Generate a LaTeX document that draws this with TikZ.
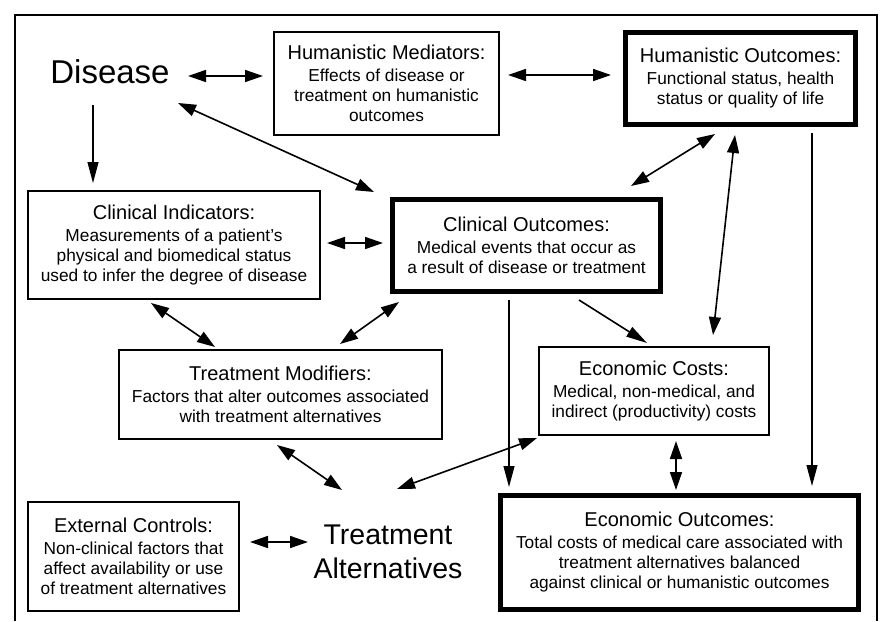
\documentclass[tikz,border=0pt]{standalone}
\usepackage{fontspec}
\setmainfont{Liberation Sans}
\usetikzlibrary{arrows.meta,calc}
\newcommand\boxtitle[1]{{\fontsize{20}{22}\selectfont #1}}
\begin{document}
\begin{tikzpicture}[x=1pt,y=-1pt,
  box/.style={draw, line width=1.4pt, align=center, inner sep=0pt, outer sep=0pt,
    font=\fontsize{17.3}{20}\selectfont},
  heavybox/.style={box, line width=5pt},
  bigtext/.style={inner sep=0pt, outer sep=0pt, align=center},
  dbl/.style={{Triangle[length=18pt,width=12pt]}-{Triangle[length=18pt,width=12pt]}, line width=1.6pt},
  one/.style={-{Triangle[length=21pt,width=11pt]}, line width=1.1pt},
  frame/.style={line width=1.8pt}
]
\useasboundingbox (0,0) rectangle (880,621);
\draw[frame] (15,621) -- (15,15) -- (877,15) -- (877,621);

% nodes
\node[bigtext, font=\fontsize{33}{36}\selectfont] (dis) at (110,72) {Disease};
\node[box, minimum width=225pt, minimum height=103pt] (hm) at (386.5,83.5)
  {\boxtitle{Humanistic Mediators:}\\[2pt] Effects of disease or\\ treatment on humanistic\\ outcomes};
\node[heavybox, minimum width=230pt, minimum height=92pt] (ho) at (740.5,78.5)
  {\boxtitle{Humanistic Outcomes:}\\[2pt] Functional status, health\\ status or quality of life};
\node[box, minimum width=292pt, minimum height=108pt] (ci) at (174,245)
  {\boxtitle{Clinical Indicators:}\\[2pt] Measurements of a patient’s\\ physical and biomedical status\\ used to infer the degree of disease};
\node[heavybox, minimum width=268pt, minimum height=92pt] (co) at (526.5,245.5)
  {\boxtitle{Clinical Outcomes:}\\[2pt] Medical events that occur as\\ a result of disease or treatment};
\node[box, minimum width=323pt, minimum height=89pt] (tm) at (280.5,394.5)
  {\boxtitle{Treatment Modifiers:}\\[2pt] Factors that alter outcomes associated\\ with treatment alternatives};
\node[box, minimum width=230pt, minimum height=88pt] (ec) at (654,391)
  {\boxtitle{Economic Costs:}\\[2pt] Medical, non-medical, and\\ indirect (productivity) costs};
\node[heavybox, minimum width=358pt, minimum height=114pt] (eo) at (679.5,552.5)
  {\boxtitle{Economic Outcomes:}\\[2pt] Total costs of medical care associated with\\ treatment alternatives balanced\\ against clinical or humanistic outcomes};
\node[box, minimum width=211pt, minimum height=109pt] (xc) at (133.5,556.5)
  {\boxtitle{External Controls:}\\[2pt] Non-clinical factors that\\ affect availability or use\\ of treatment alternatives};
\node[bigtext, font=\fontsize{28.5}{34}\selectfont] (ta) at (388,552) {Treatment\\Alternatives};

% connectors
\draw[dbl] ($(dis)+(78,4)$) -- ($(hm)+(-123.5,-7.5)$);
\draw[dbl] ($(hm)+(121.5,-8.5)$) -- ($(ho)+(-129.5,-3.5)$);
\draw[one] ($(dis)+(-17,33)$) -- ($(ci)+(-81,-62)$);
\draw[dbl] ($(dis)+(68,31)$) -- ($(co)+(-152.5,-53.5)$);
\draw[dbl] ($(ci)+(153,-2)$) -- ($(co)+(-143.5,-2.5)$);
\draw[dbl] ($(ho)+(-25.5,55.5)$) -- ($(co)+(104.5,-59.5)$);
\draw[dbl] ($(ho)+(-5.5,56.5)$) -- ($(ec)+(59,-56)$);
\draw[one] ($(ho)+(71.5,54.5)$) -- ($(eo)+(132.5,-66.5)$);
\draw[one] ($(co)+(-17.5,54.5)$) -- ($(eo)+(-170.5,-65.5)$);
\draw[one, line width=1.6pt] ($(co)+(52.5,54.5)$) -- ($(ec)+(-7,-48)$);
\draw[dbl] ($(ec)+(22,50)$) -- ($(eo)+(-3.5,-62.5)$);
\draw[dbl] ($(ec)+(-117,47)$) -- ($(ta)+(9,-63)$);
\draw[dbl] ($(ci)+(-23,58)$) -- ($(tm)+(-65.5,-47.5)$);
\draw[dbl] ($(co)+(-127.5,56.5)$) -- ($(tm)+(59.5,-50.5)$);
\draw[dbl] ($(tm)+(-3.5,50.5)$) -- ($(ta)+(-46,-62)$);
\draw[dbl] ($(xc)+(116.5,-14.5)$) -- ($(ta)+(-80,-10)$);
\end{tikzpicture}
\end{document}
